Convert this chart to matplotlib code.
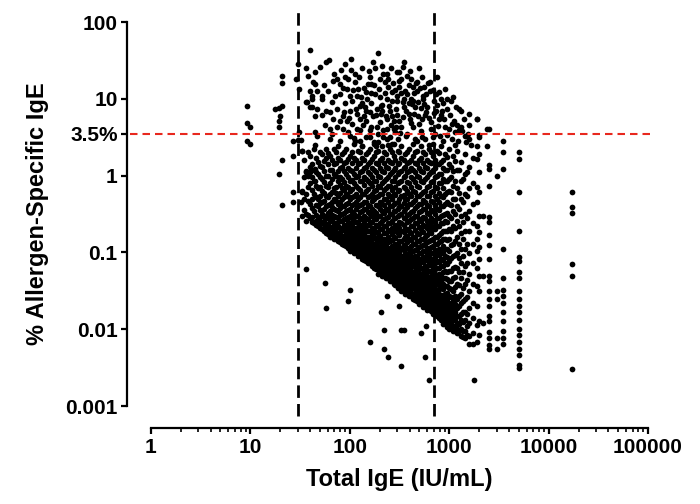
import numpy as np
import matplotlib
matplotlib.use('Agg')
import matplotlib.pyplot as plt
from matplotlib.ticker import FixedLocator, LogLocator, NullFormatter, NullLocator

plt.rcParams['font.family'] = ['Liberation Sans', 'DejaVu Sans']
plt.rcParams['font.weight'] = 'bold'

# ---- data: (Total IgE IU/mL, % allergen-specific IgE) ----
low_ige_points = [(9.2, 8.1), (9.2, 4.8), (10, 4.3), (9.2, 2.8), (10, 2.6),
                  (21, 20), (21, 16), (17.6, 7.4), (19.3, 7.7), (21, 8.1), (20, 6.0),
                  (19.3, 5.2), (19.3, 4.3), (21, 1.6), (19.3, 1.06), (21, 0.41),
                  (27, 2.85), (27, 1.8), (27, 0.62), (27, 0.45)]

near_cutoff_points = [(29, 18), (30, 28.6), (31, 13.5), (45, 15.8), (42, 10), (36, 9.2),
                      (40, 7.9), (45, 6.0), (45, 3.7), (45, 2.5), (31, 3.7), (32, 2.95),
                      (33, 2.1), (30, 2.9), (36, 1.13), (40, 1.1), (45, 1.23), (45, 0.86),
                      (33, 0.62), (32, 0.45)]

upper_points = [
    (40, 43), (36, 25), (45, 22.6), (62, 32), (58, 30), (89, 28), (190, 40), (170, 30),
    (235, 21), (300, 22.6), (68, 17), (74, 18), (79, 15.8), (89, 19.5), (112, 16.7),
    (158, 19.5), (165, 15.8), (200, 18), (224, 16.7), (43, 16.7), (40, 12.8), (42, 11),
    (47, 12.8), (52, 11), (53, 10), (37, 9.2), (42, 7.9), (71, 11), (93, 13.5), (100, 11),
    (106, 9.4), (117, 11), (130, 10.6), (145, 12.4), (178, 11.7), (200, 10.6), (235, 10),
    (265, 9.4), (300, 11), (47, 7.4), (58, 7.0), (63, 6.8), (75, 7.4), (85, 6.0), (100, 7.0),
    (117, 6.4), (141, 7.9), (158, 6.8), (187, 7.4), (213, 7.0), (250, 8.1), (290, 7.4),
    (68, 5.5), (79, 5.2), (93, 5.2), (106, 4.7), (126, 5.5), (145, 5.2), (170, 5.9),
    (200, 5.0), (235, 5.5), (265, 5.9), (63, 4.1), (74, 4.3), (85, 4.1), (95, 3.7),
    (117, 4.1), (135, 4.5), (158, 3.9), (187, 4.3), (235, 4.1), (280, 4.1), (47, 3.3),
    (63, 3.0), (79, 2.85), (100, 3.3), (126, 2.85), (158, 3.2), (190, 2.75), (235, 3.0),
    (265, 2.6),
    (350, 30), (316, 22.6), (330, 18), (530, 19.5), (470, 16.7), (430, 14.4), (640, 16.7),
    (640, 12.8), (790, 12.4), (380, 11.7), (540, 11), (340, 9.2), (430, 9.4), (560, 8.6),
    (710, 9.4), (830, 10), (1050, 9.4), (1170, 7.9), (1310, 7.0), (1580, 6.4), (1900, 5.5),
    (2400, 4.1), (365, 7.0), (447, 6.4), (590, 6.8), (740, 7.0), (940, 7.4), (316, 5.2),
    (400, 5.5), (530, 5.5), (660, 5.0), (890, 5.5), (1070, 4.7), (1310, 4.3), (1580, 4.5),
    (282, 3.7), (365, 3.3), (530, 3.2), (810, 3.3), (1070, 3.0), (1470, 2.75), (1990, 3.2),
    (133, 8.7), (146, 7.0), (165, 8.9), (182, 6.2), (209, 8.4), (230, 5.9), (251, 7.0),
    (276, 5.2), (126, 3.9), (146, 3.2), (165, 4.3), (191, 3.5), (218, 3.9), (251, 3.2),
    (290, 4.3), (302, 3.0), (112, 2.85), (133, 2.46), (182, 2.46), (240, 2.5), (115, 7.4),
    (89, 8.7), (79, 11.7), (121, 13.5), (152, 15.8), (240, 14.4), (265, 12.4), (218, 21),
    (133, 25), (104, 33), (316, 14.4), (363, 12.8), (417, 10), (479, 12.8), (550, 10),
    (600, 7.9), (741, 11.7), (870, 8.7), (350, 7.9), (398, 6.4), (457, 7.9), (501, 4.7),
    (575, 6.2), (661, 4.1), (794, 5.5), (912, 4.3), (331, 4.3), (380, 3.5), (437, 4.3),
    (479, 2.85), (575, 3.0), (631, 2.5), (724, 3.5), (870, 2.8), (1000, 4.1), (1150, 2.5),
    (1260, 3.9), (1445, 3.3), (1660, 2.5), (417, 18), (501, 25), (562, 14.4), (760, 19.5),
    (912, 13.5), (1096, 10.6), (1260, 7.4), (1413, 5.5), (1530, 3.5), (1990, 3.4), (2400, 2.45),
    (38, 20), (50, 26), (55, 15), (60, 12.5), (66, 9), (70, 21), (82, 24), (86, 14), (97, 18),
    (102, 24), (108, 13), (112, 21), (124, 19), (128, 8), (138, 14), (150, 10), (155, 23),
    (162, 12), (175, 15), (180, 25), (195, 13.5), (205, 8), (210, 27), (228, 12), (245, 18),
    (258, 25), (270, 16), (285, 13), (295, 9.5), (310, 17), (325, 12), (340, 26), (355, 10),
    (372, 20), (390, 15), (405, 23), (420, 8.5), (440, 12), (460, 16), (485, 9), (510, 14),
    (520, 7.5), (580, 11.5), (610, 16), (680, 13), (700, 6.5), (760, 8.2), (850, 7),
    (950, 9.8), (1020, 6.2), (1120, 5.2), (1200, 4.6), (1350, 3.8), (1600, 3.0), (52, 6.2),
    (56, 4.5), (66, 3.5), (88, 6.8), (98, 5.6), (110, 3.1), (140, 6.0), (175, 2.7), (205, 6.3),
    (215, 3.2), (260, 4.6), (300, 6.2), (320, 3.6), (345, 5.8), (390, 8.8), (410, 4.9),
    (450, 3.0), (490, 5.9), (520, 3.8), (620, 5.6), (680, 3.2), (780, 4.4), (830, 6.2),
    (960, 3.4), (1150, 3.7), (1230, 2.8)]

cloud_30_100 = [
    (33, [2.1, 0.63, 0.30]),
    (34.6, [1.6, 0.95, 0.5, 0.36]),
    (36, [1.14, 0.58, 0.32, 0.26]),
    (38, [2.0, 1.0, 0.7, 0.47, 0.31]),
    (40, [1.8, 1.3, 0.79, 0.43, 0.28]),
    (41.7, [1.4, 0.95, 0.65, 0.5, 0.38, 0.29, 0.25]),
    (44, [2.2, 1.2, 0.85, 0.58, 0.345, 0.24]),
    (45.7, [1.7, 1.1, 0.74, 0.52, 0.41, 0.31, 0.26, 0.23]),
    (48, [1.5, 1.06, 0.68, 0.50, 0.40, 0.28, 0.22]),
    (50, [2.0, 1.35, 0.95, 0.7, 0.55, 0.44, 0.36, 0.29, 0.25, 0.21]),
    (52, [1.9, 1.3, 0.91, 0.63, 0.46, 0.32, 0.24, 0.20]),
    (55, [1.55, 1.15, 0.82, 0.6, 0.47, 0.37, 0.3, 0.26, 0.21, 0.19]),
    (57, [2.2, 1.7, 0.98, 0.73, 0.54, 0.40, 0.30, 0.22, 0.18]),
    (60, [1.95, 1.4, 1.0, 0.7, 0.52, 0.41, 0.33, 0.28, 0.235, 0.2, 0.175]),
    (63, [1.8, 1.2, 0.79, 0.58, 0.43, 0.345, 0.26, 0.20, 0.16]),
    (66, [1.6, 1.2, 0.9, 0.62, 0.46, 0.39, 0.31, 0.265, 0.215, 0.185, 0.16]),
    (69, [2.2, 1.4, 1.06, 0.68, 0.50, 0.37, 0.30, 0.24, 0.19, 0.15]),
    (72.4, [2.0, 1.45, 0.98, 0.72, 0.6, 0.47, 0.36, 0.29, 0.245, 0.205, 0.17, 0.15]),
    (76, [2.4, 1.7, 1.14, 0.85, 0.54, 0.43, 0.345, 0.28, 0.22, 0.18, 0.14]),
    (79, [1.6, 1.25, 0.95, 0.76, 0.6, 0.46, 0.38, 0.31, 0.255, 0.21, 0.18, 0.155, 0.135]),
    (83, [1.9, 1.3, 0.91, 0.68, 0.50, 0.40, 0.32, 0.26, 0.20, 0.16, 0.13]),
    (87, [2.0, 1.45, 1.15, 0.82, 0.65, 0.52, 0.4, 0.33, 0.27, 0.23, 0.195, 0.165, 0.145, 0.125]),
    (91, [2.2, 1.5, 1.06, 0.73, 0.58, 0.43, 0.345, 0.28, 0.22, 0.18, 0.15, 0.12]),
    (95.5, [1.65, 1.25, 0.95, 0.7, 0.55, 0.44, 0.36, 0.29, 0.25, 0.21, 0.18, 0.155, 0.135, 0.115]),
]

cloud_100_300 = [
    (100, [1.8, 1.2, 0.85, 0.63, 0.50, 0.37, 0.30, 0.24, 0.19, 0.16, 0.14, 0.12, 0.104]),
    (105, [2.0, 1.45, 1.15, 0.88, 0.66, 0.52, 0.41, 0.34, 0.28, 0.23, 0.2, 0.17, 0.145, 0.125, 0.108]),
    (110, [2.6, 1.7, 1.06, 0.79, 0.54, 0.43, 0.32, 0.26, 0.20, 0.18, 0.15, 0.13, 0.11, 0.097]),
    (115, [1.6, 1.25, 0.95, 0.74, 0.58, 0.46, 0.37, 0.3, 0.25, 0.21, 0.18, 0.155, 0.135, 0.117, 0.1]),
    (121, [2.1, 1.4, 0.98, 0.68, 0.50, 0.40, 0.30, 0.24, 0.19, 0.16, 0.14, 0.12, 0.104, 0.09]),
    (126, [2.0, 1.45, 1.1, 0.84, 0.64, 0.52, 0.42, 0.34, 0.27, 0.23, 0.195, 0.165, 0.142, 0.123, 0.107, 0.092]),
    (133, [2.4, 1.7, 1.14, 0.85, 0.58, 0.43, 0.345, 0.28, 0.22, 0.18, 0.15, 0.13, 0.11, 0.097, 0.083]),
    (138, [1.6, 1.25, 0.95, 0.76, 0.58, 0.46, 0.37, 0.3, 0.25, 0.205, 0.175, 0.15, 0.13, 0.114, 0.1, 0.087, 0.08]),
    (146, [1.9, 1.3, 0.91, 0.63, 0.46, 0.37, 0.28, 0.22, 0.19, 0.16, 0.14, 0.12, 0.104, 0.09, 0.077]),
    (151, [2.0, 1.4, 1.1, 0.84, 0.66, 0.52, 0.41, 0.34, 0.27, 0.225, 0.19, 0.16, 0.138, 0.12, 0.105, 0.092, 0.08, 0.073]),
    (158, [2.2, 1.5, 1.06, 0.79, 0.54, 0.40, 0.32, 0.24, 0.19, 0.15, 0.13, 0.11, 0.097, 0.083, 0.072]),
    (166, [1.65, 1.25, 0.95, 0.74, 0.58, 0.47, 0.37, 0.3, 0.25, 0.21, 0.175, 0.15, 0.128, 0.11, 0.096, 0.085, 0.075, 0.067]),
    (174, [2.6, 1.8, 1.2, 0.85, 0.63, 0.50, 0.345, 0.28, 0.20, 0.16, 0.13, 0.11, 0.097, 0.083, 0.072, 0.062]),
    (182, [2.0, 1.45, 1.1, 0.84, 0.65, 0.52, 0.41, 0.33, 0.27, 0.225, 0.185, 0.155, 0.132, 0.115, 0.1, 0.088, 0.077, 0.068, 0.06]),
    (191, [2.1, 1.4, 0.98, 0.73, 0.54, 0.40, 0.30, 0.22, 0.18, 0.14, 0.11, 0.097, 0.083, 0.072, 0.062, 0.053]),
    (200, [1.6, 1.25, 0.95, 0.72, 0.58, 0.46, 0.37, 0.3, 0.245, 0.2, 0.165, 0.14, 0.12, 0.104, 0.091, 0.08, 0.07, 0.062, 0.055]),
    (209, [2.4, 1.7, 1.14, 0.79, 0.58, 0.43, 0.345, 0.26, 0.20, 0.15, 0.12, 0.104, 0.09, 0.077, 0.067, 0.057, 0.049]),
    (219, [2.0, 1.45, 1.1, 0.84, 0.65, 0.5, 0.41, 0.33, 0.27, 0.22, 0.18, 0.15, 0.128, 0.11, 0.095, 0.083, 0.073, 0.064, 0.057, 0.05]),
    (230, [1.9, 1.3, 0.91, 0.68, 0.50, 0.37, 0.28, 0.22, 0.18, 0.13, 0.104, 0.083, 0.072, 0.062, 0.053, 0.046]),
    (240, [1.6, 1.25, 0.95, 0.74, 0.57, 0.45, 0.36, 0.29, 0.24, 0.195, 0.16, 0.135, 0.115, 0.1, 0.087, 0.076, 0.067, 0.059, 0.052, 0.046]),
    (251, [2.2, 1.5, 1.06, 0.73, 0.54, 0.40, 0.32, 0.24, 0.19, 0.14, 0.11, 0.09, 0.077, 0.067, 0.057, 0.049, 0.042]),
    (263, [2.0, 1.45, 1.1, 0.84, 0.64, 0.5, 0.4, 0.32, 0.26, 0.21, 0.175, 0.145, 0.122, 0.104, 0.09, 0.079, 0.069, 0.061, 0.054, 0.048, 0.042]),
    (276, [2.6, 1.8, 1.2, 0.85, 0.58, 0.43, 0.345, 0.28, 0.20, 0.16, 0.12, 0.097, 0.083, 0.072, 0.062, 0.053, 0.046, 0.039]),
    (288, [1.6, 1.25, 0.95, 0.72, 0.56, 0.44, 0.35, 0.28, 0.23, 0.19, 0.155, 0.13, 0.11, 0.094, 0.081, 0.071, 0.062, 0.055, 0.049, 0.043, 0.038]),
]

cloud_300_1000 = [
    (302, [2.1, 1.4, 1.06, 0.79, 0.63, 0.46, 0.37, 0.30, 0.22, 0.18, 0.13, 0.104, 0.083, 0.072, 0.062, 0.053, 0.046, 0.039, 0.034]),
    (316, [2.0, 1.45, 1.1, 0.82, 0.64, 0.5, 0.39, 0.31, 0.25, 0.205, 0.17, 0.14, 0.118, 0.1, 0.086, 0.075, 0.065, 0.057, 0.05, 0.044, 0.039, 0.035]),
    (331, [2.4, 1.7, 1.14, 0.85, 0.54, 0.40, 0.32, 0.24, 0.19, 0.14, 0.11, 0.09, 0.077, 0.067, 0.057, 0.049, 0.042, 0.036, 0.031]),
    (347, [1.6, 1.25, 0.95, 0.72, 0.56, 0.44, 0.35, 0.28, 0.225, 0.185, 0.15, 0.125, 0.106, 0.09, 0.078, 0.068, 0.059, 0.052, 0.046, 0.04, 0.036, 0.032]),
    (363, [1.9, 1.3, 0.98, 0.68, 0.50, 0.37, 0.28, 0.20, 0.16, 0.12, 0.097, 0.077, 0.062, 0.053, 0.046, 0.039, 0.034, 0.029]),
    (380, [2.0, 1.45, 1.1, 0.82, 0.63, 0.49, 0.39, 0.31, 0.25, 0.2, 0.165, 0.135, 0.113, 0.096, 0.082, 0.071, 0.062, 0.054, 0.047, 0.042, 0.037, 0.033, 0.029]),
    (398, [2.2, 1.5, 1.14, 0.79, 0.58, 0.43, 0.32, 0.26, 0.19, 0.15, 0.11, 0.09, 0.072, 0.057, 0.049, 0.042, 0.036, 0.031, 0.027]),
    (417, [1.6, 1.25, 0.95, 0.72, 0.55, 0.43, 0.34, 0.27, 0.22, 0.18, 0.145, 0.12, 0.102, 0.087, 0.074, 0.064, 0.056, 0.049, 0.043, 0.038, 0.034, 0.03, 0.027]),
    (437, [2.6, 1.8, 1.2, 0.91, 0.63, 0.46, 0.345, 0.28, 0.22, 0.16, 0.13, 0.104, 0.083, 0.067, 0.053, 0.046, 0.039, 0.034, 0.029, 0.025]),
    (457, [2.0, 1.45, 1.1, 0.82, 0.62, 0.48, 0.38, 0.3, 0.24, 0.195, 0.16, 0.13, 0.108, 0.091, 0.078, 0.067, 0.058, 0.05, 0.044, 0.039, 0.034, 0.03, 0.027, 0.024]),
    (479, [2.1, 1.4, 0.98, 0.73, 0.54, 0.40, 0.30, 0.24, 0.18, 0.14, 0.11, 0.09, 0.072, 0.062, 0.049, 0.042, 0.036, 0.031, 0.027, 0.023]),
    (501, [1.6, 1.25, 0.95, 0.72, 0.55, 0.43, 0.34, 0.27, 0.215, 0.175, 0.14, 0.116, 0.097, 0.082, 0.07, 0.06, 0.052, 0.045, 0.04, 0.035, 0.031, 0.027, 0.024, 0.021]),
    (525, [2.4, 1.7, 1.14, 0.85, 0.58, 0.43, 0.345, 0.26, 0.20, 0.15, 0.12, 0.097, 0.077, 0.062, 0.053, 0.046, 0.039, 0.034, 0.029, 0.025, 0.022]),
    (550, [2.0, 1.45, 1.1, 0.82, 0.62, 0.48, 0.37, 0.29, 0.23, 0.185, 0.15, 0.124, 0.103, 0.087, 0.074, 0.063, 0.054, 0.047, 0.041, 0.036, 0.032, 0.028, 0.025, 0.022, 0.0195]),
    (575, [1.9, 1.3, 0.91, 0.63, 0.46, 0.37, 0.28, 0.22, 0.16, 0.13, 0.104, 0.083, 0.067, 0.057, 0.049, 0.042, 0.036, 0.031, 0.027, 0.023, 0.020]),
    (603, [1.6, 1.25, 0.95, 0.72, 0.55, 0.42, 0.33, 0.26, 0.21, 0.17, 0.138, 0.113, 0.094, 0.079, 0.067, 0.057, 0.049, 0.043, 0.037, 0.033, 0.029, 0.026, 0.023, 0.0205, 0.018]),
    (631, [2.2, 1.5, 1.06, 0.73, 0.54, 0.40, 0.32, 0.24, 0.19, 0.14, 0.11, 0.09, 0.072, 0.057, 0.046, 0.039, 0.034, 0.029, 0.025, 0.022, 0.019]),
    (661, [2.0, 1.45, 1.1, 0.82, 0.62, 0.47, 0.36, 0.28, 0.22, 0.18, 0.145, 0.118, 0.098, 0.082, 0.069, 0.058, 0.05, 0.043, 0.037, 0.032, 0.028, 0.025, 0.022, 0.0195, 0.0172]),
    (692, [2.6, 1.8, 1.2, 0.85, 0.63, 0.46, 0.345, 0.26, 0.20, 0.15, 0.12, 0.097, 0.077, 0.062, 0.049, 0.039, 0.034, 0.029, 0.025, 0.022, 0.019, 0.016]),
    (724, [1.6, 1.25, 0.95, 0.72, 0.54, 0.41, 0.32, 0.25, 0.2, 0.16, 0.13, 0.106, 0.088, 0.073, 0.061, 0.052, 0.044, 0.038, 0.033, 0.029, 0.0255, 0.0225, 0.02, 0.0178, 0.0158]),
    (759, [2.1, 1.4, 0.98, 0.68, 0.50, 0.37, 0.28, 0.22, 0.16, 0.13, 0.097, 0.077, 0.062, 0.049, 0.039, 0.031, 0.027, 0.023, 0.020, 0.017, 0.015]),
    (794, [1.95, 1.4, 1.05, 0.8, 0.6, 0.46, 0.36, 0.28, 0.22, 0.17, 0.138, 0.112, 0.092, 0.076, 0.063, 0.053, 0.045, 0.039, 0.033, 0.029, 0.025, 0.022, 0.0195, 0.0172, 0.0152, 0.0138]),
    (832, [2.4, 1.5, 1.06, 0.79, 0.54, 0.40, 0.30, 0.24, 0.18, 0.14, 0.104, 0.083, 0.067, 0.053, 0.042, 0.034, 0.027, 0.023, 0.020, 0.017, 0.015, 0.013]),
    (870, [1.6, 1.25, 0.9, 0.68, 0.52, 0.4, 0.31, 0.24, 0.19, 0.15, 0.12, 0.098, 0.08, 0.066, 0.055, 0.046, 0.039, 0.033, 0.028, 0.024, 0.021, 0.0185, 0.0163, 0.0145, 0.013, 0.0118]),
    (912, [1.9, 1.2, 0.85, 0.58, 0.43, 0.32, 0.26, 0.19, 0.15, 0.11, 0.09, 0.072, 0.057, 0.046, 0.036, 0.029, 0.025, 0.022, 0.019, 0.016, 0.014, 0.012]),
    (955, [1.75, 1.2, 0.85, 0.62, 0.45, 0.33, 0.25, 0.19, 0.145, 0.112, 0.088, 0.07, 0.056, 0.045, 0.037, 0.03, 0.025, 0.021, 0.018, 0.0155, 0.0135, 0.012, 0.0106]),
]

cloud_1000_2000 = [
    (1000, [2.2, 1.4, 0.91, 0.63, 0.43, 0.30, 0.20, 0.15, 0.104, 0.077, 0.057, 0.042, 0.034, 0.027, 0.022, 0.019, 0.016, 0.014, 0.012, 0.010]),
    (1047, [1.3, 0.95, 0.62, 0.42, 0.28, 0.19, 0.125, 0.085, 0.058, 0.043, 0.033, 0.026, 0.021, 0.017, 0.014, 0.012, 0.0105]),
    (1096, [1.8, 1.14, 0.73, 0.50, 0.345, 0.22, 0.13, 0.09, 0.062, 0.046, 0.031, 0.023, 0.019, 0.015, 0.013, 0.011, 0.0095]),
    (1148, [1.55, 0.85, 0.5, 0.32, 0.21, 0.14, 0.092, 0.065, 0.048, 0.035, 0.027, 0.021, 0.0165, 0.0135, 0.011, 0.0095]),
    (1202, [2.1, 1.2, 0.68, 0.40, 0.26, 0.16, 0.097, 0.062, 0.039, 0.025, 0.019, 0.015, 0.012, 0.010, 0.0088]),
    (1259, [1.2, 0.6, 0.37, 0.22, 0.13, 0.085, 0.056, 0.038, 0.027, 0.02, 0.015, 0.0118, 0.0094]),
    (1318, [1.5, 0.85, 0.50, 0.30, 0.18, 0.11, 0.072, 0.046, 0.029, 0.022, 0.016, 0.013, 0.010, 0.0082]),
    (1380, [0.9, 0.45, 0.25, 0.15, 0.09, 0.055, 0.034, 0.023, 0.017, 0.0125, 0.0095, 0.0078]),
    (1445, [1.9, 1.06, 0.58, 0.32, 0.19, 0.11, 0.067, 0.039, 0.025, 0.017, 0.013, 0.0095, 0.0076]),
    (1514, [1.1, 0.55, 0.28, 0.13, 0.072, 0.044, 0.026, 0.016, 0.011, 0.0085]),
    (1585, [1.3, 0.68, 0.345, 0.19, 0.097, 0.053, 0.031, 0.019, 0.012, 0.0082, 0.0065]),
    (1738, [1.7, 0.79, 0.43, 0.24, 0.13, 0.072, 0.039, 0.022, 0.014, 0.0088, 0.0065]),
]

high_ige_columns = [
    (1900, [5.5, 2.46, 1.66, 0.72, 0.46, 0.22, 0.15, 0.103, 0.062, 0.037, 0.020, 0.0112, 0.0069]),
    (2000, [1.93, 1.13, 0.62, 0.30, 0.187, 0.116, 0.083, 0.050, 0.031, 0.0126, 0.0083]),
    (2200, [0.30, 0.05, 0.012]),
    (2500, [4.1, 1.39, 1.23, 0.74, 0.29, 0.25, 0.166, 0.123, 0.083, 0.050, 0.042, 0.031, 0.025,
            0.020, 0.015, 0.0126, 0.0093, 0.0076, 0.0062, 0.0056]),
    (3000, [1.0, 0.031, 0.025, 0.0076, 0.0056]),
    (3500, [2.85, 2.05, 1.23, 0.11, 0.047, 0.032, 0.027, 0.022, 0.0168, 0.0126, 0.0096, 0.0076, 0.0065]),
    (5000, [2.0, 1.66, 0.62, 0.19, 0.086, 0.078, 0.056, 0.046, 0.031, 0.025, 0.020, 0.017, 0.013,
            0.010, 0.0083, 0.0069, 0.0056, 0.0046, 0.0034, 0.0031]),
    (17000, [0.62, 0.39, 0.33, 0.071, 0.05, 0.003]),
]

low_pct_outliers = [(36, 0.06), (56, 0.04), (57, 0.019), (100, 0.032), (95, 0.023), (235, 0.027),
                    (205, 0.0165), (220, 0.0099), (160, 0.0068), (220, 0.0055), (240, 0.0044),
                    (316, 0.02), (330, 0.0097), (355, 0.0098), (525, 0.0088), (590, 0.011),
                    (575, 0.0044), (330, 0.0033), (630, 0.0022), (1780, 0.0022)]

total_cutoffs = [30, 700]
pct_cutoff = 3.5

x_ticks = [1, 10, 100, 1000, 10000, 100000]
y_ticks = [0.001, 0.01, 0.1, 1, 3.5, 10, 100]
y_tick_labels = ['0.001', '0.01', '0.1', '1', '3.5%', '10', '100']

# flatten everything
pts = low_ige_points + near_cutoff_points + upper_points + low_pct_outliers
for cols in (cloud_30_100, cloud_100_300, cloud_300_1000, cloud_1000_2000, high_ige_columns):
    for xv, ys in cols:
        pts += [(xv, yv) for yv in ys]
pts = np.array(pts)

fig = plt.figure(figsize=(7, 5.04), dpi=100)
ax = fig.add_axes([151 / 700, 1 - 406 / 504, 497 / 700, 384 / 504])

ax.scatter(pts[:, 0], pts[:, 1], s=17, c='black', linewidths=0, zorder=2)

for xc in total_cutoffs:
    ax.axvline(xc, ymin=-0.026, ymax=1.03, color='black', lw=2.0,
               linestyle=(0, (4.5, 2.2)), clip_on=False, zorder=3)
ax.axhline(pct_cutoff, xmin=-0.042, xmax=1.008, color='#e8281e', lw=1.5,
           linestyle=(0, (3.6, 2.4)), clip_on=False, zorder=3)

ax.set_xscale('log')
ax.set_yscale('log')
ax.set_xlim(1, 100000)
ax.set_ylim(0.001, 100)

for s in ('top', 'right'):
    ax.spines[s].set_visible(False)
ax.spines['left'].set_position(('outward', 17))
ax.spines['bottom'].set_position(('outward', 16))
for s in ('left', 'bottom'):
    ax.spines[s].set_linewidth(1.6)

tick_font = dict(family='Liberation Sans', weight='bold', size=15)
ax.xaxis.set_major_locator(FixedLocator(x_ticks))
ax.set_xticklabels([str(v) for v in x_ticks], fontdict=tick_font)
ax.xaxis.set_minor_locator(LogLocator(base=10, subs=np.arange(2, 10), numticks=20))
ax.xaxis.set_minor_formatter(NullFormatter())
ax.yaxis.set_major_locator(FixedLocator(y_ticks))
ax.set_yticklabels(y_tick_labels, fontdict=tick_font)
ax.yaxis.set_minor_locator(NullLocator())

ax.tick_params(axis='both', which='major', direction='out', length=4.5, width=1.6, pad=2.5)
ax.tick_params(axis='x', which='minor', direction='out', length=3, width=1.2)

ax.set_xlabel('Total IgE (IU/mL)', fontsize=17, fontweight='bold', labelpad=8)
ax.set_ylabel('% Allergen-Specific IgE', fontsize=17, fontweight='bold', labelpad=12)

fig.savefig('out.png', dpi=100)
